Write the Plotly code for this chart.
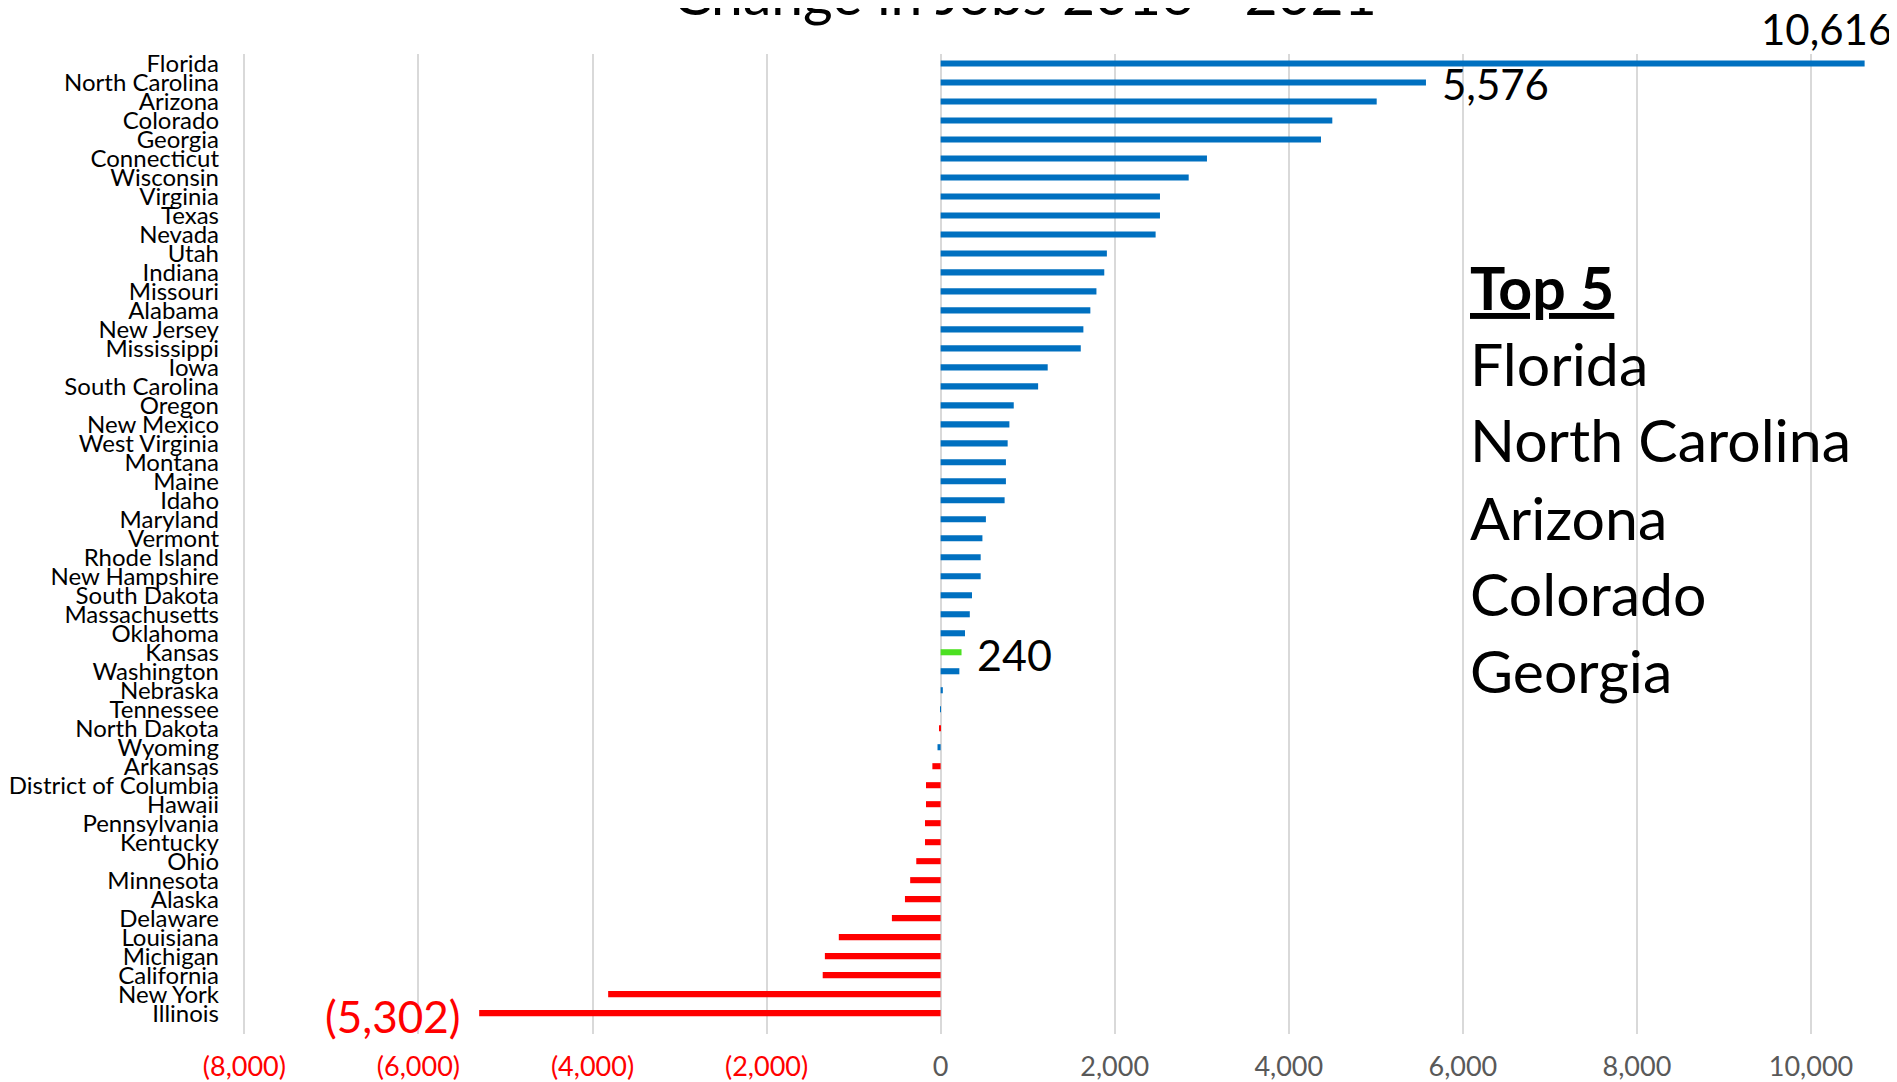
import plotly.graph_objects as go

# estados ordenados do maior para o menor
estados = ["Florida", "North Carolina", "Arizona", "Colorado", "Georgia", "Connecticut",
           "Wisconsin", "Virginia", "Texas", "Nevada", "Utah", "Indiana", "Missouri",
           "Alabama", "New Jersey", "Mississippi", "Iowa", "South Carolina", "Oregon",
           "New Mexico", "West Virginia", "Montana", "Maine", "Idaho", "Maryland",
           "Vermont", "Rhode Island", "New Hampshire", "South Dakota", "Massachusetts",
           "Oklahoma", "Kansas", "Washington", "Nebraska", "Tennessee", "North Dakota",
           "Wyoming", "Arkansas", "District of Columbia", "Hawaii", "Pennsylvania",
           "Kentucky", "Ohio", "Minnesota", "Alaska", "Delaware", "Louisiana",
           "Michigan", "California", "New York", "Illinois"]

variacao = [10616, 5576, 5010, 4500, 4370, 3060, 2850, 2520, 2520, 2470, 1910, 1880,
            1790, 1720, 1640, 1610, 1230, 1120, 840, 790, 770, 750, 750, 735, 520,
            480, 460, 460, 360, 335, 280, 240, 215, 25, 3, -15, -36, -95, -168, -168,
            -180, -180, -280, -350, -410, -560, -1170, -1330, -1355, -3820, -5302]

cores = []
for e, v in zip(estados, variacao):
    if e == "Kansas":
        cores.append("#4CE021")
    elif v >= 0 or e == "Wyoming":
        cores.append("#0070C0")
    else:
        cores.append("#FF0000")

ticks_x = [-8000, -6000, -4000, -2000, 0, 2000, 4000, 6000, 8000, 10000]
top5 = ["Florida", "North Carolina", "Arizona", "Colorado", "Georgia"]


def fmt(v):
    if v < 0:
        return "({:,})".format(-v)
    return "{:,}".format(v)


texto_ticks = []
for t in ticks_x:
    cor = "#FF0000" if t < 0 else "#595959"
    texto_ticks.append("<span style='color:%s'>%s</span>" % (cor, fmt(t)))

# o body do html tem margem de 8px, entao tudo é deslocado
M_L, M_T, M_B, M_R = 232, 46, 56, 8
W, H = 1897, 1082
larg = W - M_L - M_R
alt = H - M_T - M_B


def px(xp):
    return (xp - 8 - M_L) / larg


def py(yp):
    return (H - M_B - (yp - 8)) / alt


fig = go.Figure(go.Bar(x=variacao, y=estados, orientation="h",
                       marker=dict(color=cores, line=dict(width=0))))

fig.update_layout(
    width=W, height=H,
    margin=dict(l=M_L, r=M_R, t=M_T, b=M_B),
    plot_bgcolor="white", paper_bgcolor="white",
    font=dict(family="Lato", color="black"),
    bargap=0.68,
    showlegend=False,
)
fig.update_xaxes(range=[-8050, 10988], tickvals=ticks_x, ticktext=texto_ticks,
                 showgrid=True, gridcolor="#D9D9D9", gridwidth=1.5, zeroline=False,
                 tickfont=dict(size=27, color="#595959"), ticklabelstandoff=14,
                 showline=False, automargin=False)
fig.update_yaxes(categoryorder="array", categoryarray=estados, range=[51.1, -0.5],
                 tickmode="array", tickvals=estados,
                 tickfont=dict(size=24, color="black"), showgrid=False,
                 ticklabelstandoff=20, showline=False, automargin=False)

# rótulos de dados
fig.add_annotation(x=variacao[0], y=estados[0], text=fmt(variacao[0]), showarrow=False,
                   xanchor="right", yanchor="middle", yshift=35, xshift=29,
                   font=dict(size=42, color="black"))
fig.add_annotation(x=variacao[1], y=estados[1], text=fmt(variacao[1]), showarrow=False,
                   xanchor="left", yanchor="middle", xshift=14, yshift=-2,
                   font=dict(size=42, color="black"))
k = estados.index("Kansas")
fig.add_annotation(x=variacao[k], y=estados[k], text=fmt(variacao[k]), showarrow=False,
                   xanchor="left", yanchor="middle", xshift=13, yshift=-2,
                   font=dict(size=43, color="black"))
fig.add_annotation(x=variacao[-1], y=estados[-1], text=fmt(variacao[-1]), showarrow=False,
                   xanchor="right", yanchor="middle", xshift=-16, yshift=-3,
                   font=dict(size=44, color="#FF0000"))

# título (cortado no topo como no original)
fig.add_annotation(x=px(1025), y=py(29), xref="paper", yref="paper",
                   text="Change in Jobs 2016 - 2021", showarrow=False,
                   xanchor="center", yanchor="bottom", font=dict(size=57, color="black"))

# caixa Top 5
linhas = ["<b><u>Top 5</u></b>"] + top5
ys = [290, 366.6, 443, 520, 596.5, 673]
for txt, yp in zip(linhas, ys):
    fig.add_annotation(x=px(1468), y=py(yp - 3), xref="paper", yref="paper",
                       text=txt, showarrow=False, xanchor="left", yanchor="middle",
                       font=dict(size=59, color="black"))

fig.write_html("out.html")
